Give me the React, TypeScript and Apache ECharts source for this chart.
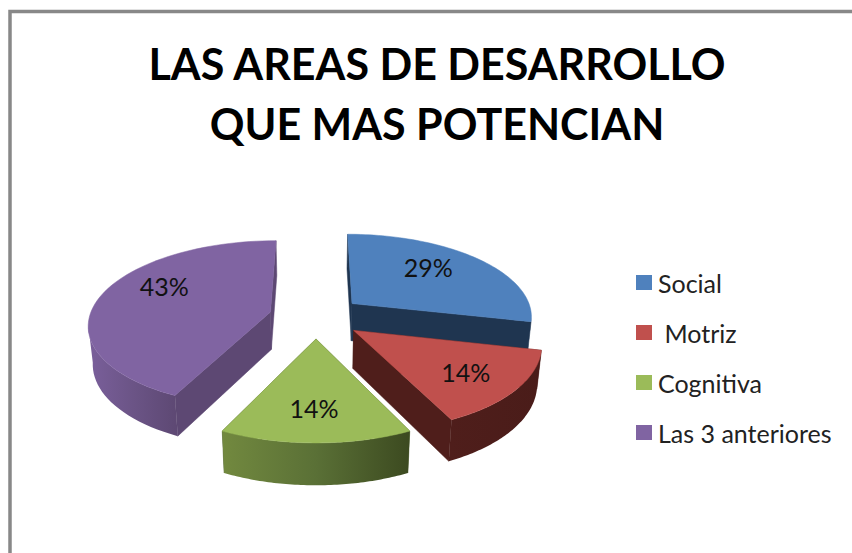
import React, { useEffect, useRef } from "react";
import * as echarts from "echarts";

const titleLines = ["LAS AREAS DE DESARROLLO", "QUE MAS POTENCIAN"];
const categories = ["Social", " Motriz", "Cognitiva", "Las 3 anteriores"];
const values = [2, 1, 1, 3];
const topColors = ["#4f81bd", "#c0504d", "#9bbb59", "#8064a2"];
const radialWallColors = ["#1f3550", "#4f1e1b", "#4a5c2a", "#5d4873"];
const arcWallStops: string[][] = [
  ["#2a4668", "#1f3550"],
  ["#4f1e1b", "#4a1c19"],
  ["#72893f", "#5a7036", "#3c4a20"],
  ["#7a5f9b", "#6b5486", "#5d4873"],
];
// painter's order of the slices, back to front
const paintOrder = [0, 3, 1, 2];
// position of each percent label on its slice: radial fraction and a small nudge
const labelRadius = [0.6, 0.72, 0.72, 0.6];
const labelNudgeX = [-1, -2, -2, -4];
const labelNudgeY = [-9, 0, -2, -15];

// projection of the tilted pie plane
const CX = 316, CY = 316.7, A = 181, B = 82.5, P = 0.14, EXPLODE = 0.26;
const total = values.reduce((s, v) => s + v, 0);
const DEG = Math.PI / 180;

function project(X: number, Y: number): number[] {
  const w = 1 - P * Y;
  return [CX + (A * X) / w, CY + (B * Y) / w];
}
function lower(p: number[]): number[] {
  return [CX + (p[0] - CX) * 0.98, p[1] + 37.6 + 0.038 * (p[1] - CY)];
}

function renderSlice(index: number) {
  const before = values.slice(0, index).reduce((s, v) => s + v, 0);
  const start = (before / total) * 360;
  const end = ((before + values[index]) / total) * 360;
  const mid = (start + end) / 2;
  const ox = EXPLODE * Math.sin(mid * DEG);
  const oy = -EXPLODE * Math.cos(mid * DEG);
  const apex = project(ox, oy);
  const arc: number[][] = [];
  const steps = 64;
  for (let i = 0; i <= steps; i++) {
    const t = (start + ((end - start) * i) / steps) * DEG;
    arc.push(project(ox + Math.sin(t), oy - Math.cos(t)));
  }
  const first = arc[0];
  const last = arc[arc.length - 1];
  const radial = (a: number[], b: number[]) => ({
    type: "polygon",
    shape: { points: [a, b, lower(b), lower(a)] },
    style: { fill: radialWallColors[index], stroke: radialWallColors[index], lineWidth: 0.5 },
    meanY: (a[1] + b[1]) / 2,
  });
  // only the part of the rim that faces the viewer gets an outer wall
  const frontArc = arc.filter(
    (p, i) =>
      (i < arc.length - 1 && arc[i + 1][0] < p[0]) || (i > 0 && arc[i - 1][0] > p[0])
  );
  const stops = arcWallStops[index];
  const arcFill = new echarts.graphic.LinearGradient(
    0, 0, 1, 0,
    stops.map((color, i) => ({ offset: i / (stops.length - 1), color }))
  );
  const wallList: any[] = [radial(apex, first), radial(apex, last)];
  if (frontArc.length > 1) {
    wallList.push({
      type: "polygon",
      shape: { points: [...frontArc, ...frontArc.slice().reverse().map(lower)] },
      style: { fill: arcFill },
      meanY: frontArc.reduce((s, p) => s + p[1], 0) / frontArc.length,
    });
  }
  const walls = wallList
    .sort((a, b) => a.meanY - b.meanY)
    .map(({ meanY, ...rest }) => rest);
  const m = mid * DEG;
  const r = labelRadius[index];
  const lp = project(ox + r * Math.sin(m), oy - r * Math.cos(m));
  const pct = Math.round((values[index] / total) * 100) + "%";
  return {
    type: "group",
    children: [
      ...walls,
      {
        type: "polygon",
        shape: { points: [apex, ...arc] },
        style: { fill: topColors[index], stroke: topColors[index], lineWidth: 0.5 },
      },
      {
        type: "text",
        style: {
          text: pct,
          x: lp[0] + labelNudgeX[index],
          y: lp[1] + labelNudgeY[index],
          align: "center",
          verticalAlign: "middle",
          fill: "#111111",
          fontFamily: "Lato",
          fontSize: 25,
        },
      },
    ],
  };
}

export default function App() {
  const ref = useRef<HTMLDivElement>(null);
  useEffect(() => {
    const chart = echarts.init(ref.current!, null, { renderer: "svg" });
    chart.setOption({
      animation: false,
      backgroundColor: "#ffffff",
      title: {
        text: titleLines.join("\n"),
        left: 437,
        top: 33,
        padding: 0,
        textAlign: "center",
        textStyle: {
          fontFamily: "Lato",
          fontWeight: "bold",
          fontSize: 43,
          lineHeight: 60,
          color: "#000000",
        },
      },
      legend: {
        orient: "vertical",
        left: 636,
        top: 270,
        padding: 0,
        icon: "rect",
        itemWidth: 16,
        itemHeight: 15,
        itemGap: 25,
        selectedMode: false,
        data: categories,
        textStyle: { fontFamily: "Lato", fontSize: 25, lineHeight: 25, color: "#222222", padding: [0, 0, 0, 1] },
      },
      graphic: [
        {
          type: "polyline",
          shape: { points: [[10, 553], [10, 11.5], [852, 11.5]] },
          style: { stroke: "#888888", lineWidth: 3.5, fill: "none" },
        },
      ],
      series: categories.map((name, index) => ({
        type: "custom",
        name,
        coordinateSystem: "none",
        z: 2 + paintOrder.indexOf(index),
        itemStyle: { color: topColors[index] },
        data: [[values[index]]],
        renderItem: () => renderSlice(index),
      })),
    });
    return () => chart.dispose();
  }, []);
  return (
    <div
      ref={ref}
      style={{ position: "absolute", left: 0, top: 0, width: 852, height: 553 }}
    />
  );
}
